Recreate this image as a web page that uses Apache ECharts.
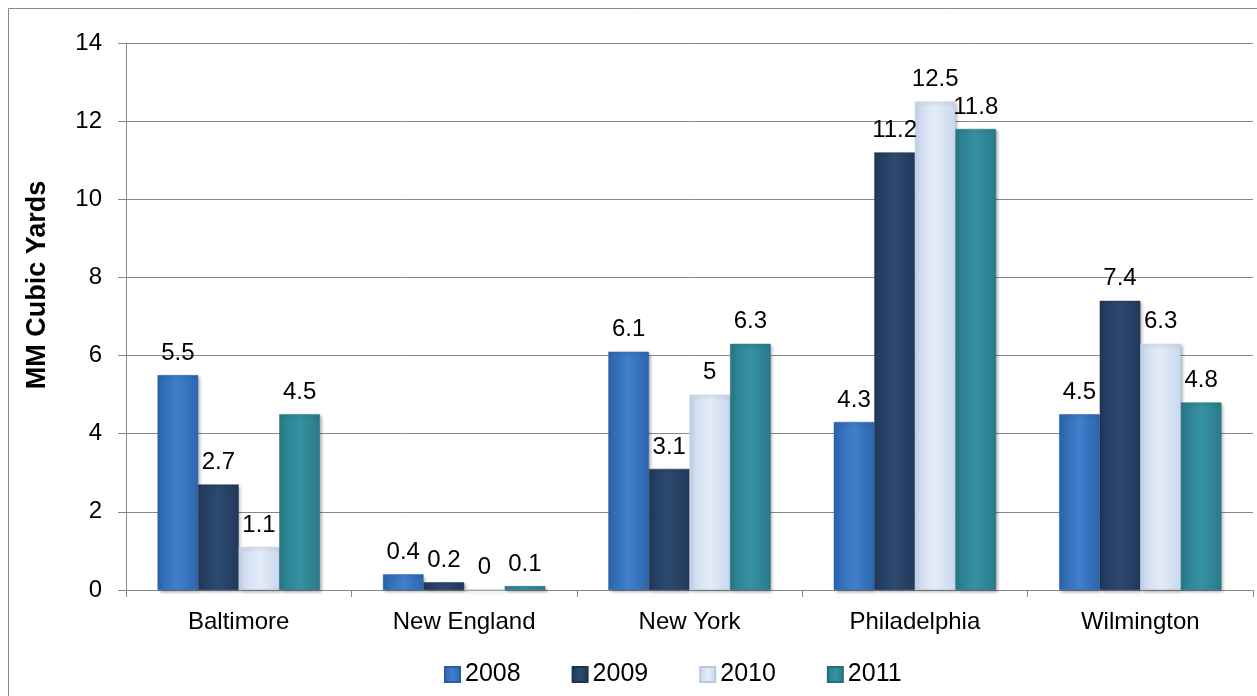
<!DOCTYPE html>
<html><head><meta charset="utf-8">
<script src="https://cdn.jsdelivr.net/npm/echarts@6/dist/echarts.min.js"></script>
<style>html,body{margin:0;padding:0;background:#fff}#c{width:1257px;height:696px}</style>
</head><body><div id="c"></div>
<script>
const categories = ['Baltimore','New England','New York','Philadelphia','Wilmington'];
const years = ['2008','2009','2010','2011'];
const v2008 = [5.5, 0.4, 6.1, 4.3, 4.5];
const v2009 = [2.7, 0.2, 3.1, 11.2, 7.4];
const v2010 = [1.1, 0, 5, 12.5, 6.3];
const v2011 = [4.5, 0.1, 6.3, 11.8, 4.8];
const yTicks = [0,2,4,6,8,10,12,14];
const yTitle = 'MM Cubic Yards';

function grad(edge, mid){
  return new echarts.graphic.LinearGradient(0,0,1,0,[
    {offset:0,color:edge},{offset:0.5,color:mid},{offset:1,color:edge}]);
}
const styles = [
  {c:grad('#2c66ad','#3f7fcc'), b:'#2a5f9f'},
  {c:grad('#22395a','#2c4a70'), b:'#1e3350'},
  {c:grad('#c9d8ee','#e4ecf8'), b:'#b9c9e0'},
  {c:grad('#2a7a89','#3592a3'), b:'#256e7c'}
];
const seriesData = [v2008, v2009, v2010, v2011];
const chart = echarts.init(document.getElementById('c'));
chart.setOption({
  animation:false,
  textStyle:{fontFamily:'Liberation Sans, Arial, sans-serif'},
  graphic:[
    {type:'rect',shape:{x:8.5,y:8.5,width:1260,height:700},style:{fill:'none',stroke:'#888',lineWidth:1}},
    {type:'text', x:38, y:285, rotation:Math.PI/2,
     style:{text:yTitle, fill:'#000', font:'bold 27px "Liberation Sans", Arial, sans-serif', textAlign:'center', textVerticalAlign:'middle'}}
  ],
  grid:{left:126,right:4,top:43,bottom:106,containLabel:false},
  legend:{
    data:years, top:657, left:439, itemWidth:15, itemHeight:15, itemGap:51,
    icon:'rect',
    textStyle:{fontSize:25,color:'#000'}
  },
  xAxis:{
    type:'category', data:categories,
    axisLine:{lineStyle:{color:'#888'}},
    axisTick:{show:true,length:7,lineStyle:{color:'#888'}},
    axisLabel:{fontSize:24,color:'#000',margin:20}
  },
  yAxis:{
    type:'value', min:0, max:14, interval:2,
    axisLine:{show:true,lineStyle:{color:'#888'}},
    axisTick:{show:true,length:8,lineStyle:{color:'#888'}},
    axisLabel:{fontSize:24,color:'#000',margin:24},
    splitLine:{lineStyle:{color:'#888'}}
  },
  series: years.map((y,i)=>({
    name:y, type:'bar', data:seriesData[i], barGap:'0%', barCategoryGap:'28%',
    itemStyle:{color:styles[i].c, borderColor:styles[i].b, borderWidth:0.5,
      shadowColor:'rgba(0,0,0,0.3)', shadowBlur:3, shadowOffsetX:2, shadowOffsetY:2},
    label:{show:true, position:'top', fontSize:24, color:'#000', distance:10}
  }))
});
</script></body></html>
